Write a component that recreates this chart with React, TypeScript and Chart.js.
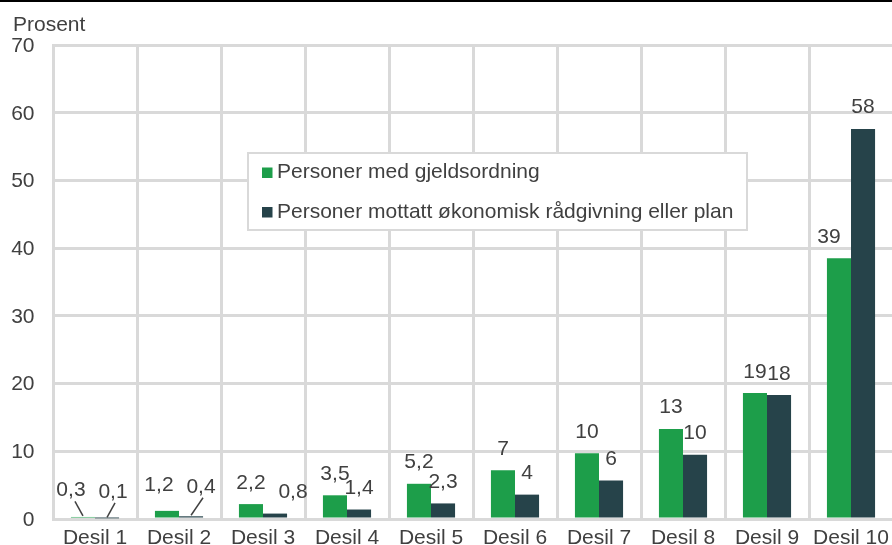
import React, { useEffect, useRef } from "react";
import { Chart, registerables } from "chart.js";

Chart.register(...registerables);

const categories = ["Desil 1", "Desil 2", "Desil 3", "Desil 4", "Desil 5", "Desil 6", "Desil 7", "Desil 8", "Desil 9", "Desil 10"];
const seriesNames = ["Personer med gjeldsordning", "Personer mottatt økonomisk rådgivning eller plan"];
const gjeldsordning = [0.3, 1.2, 2.2, 3.5, 5.2, 7.2, 9.7, 13.3, 18.6, 38.5];
const raadgivning = [0.1, 0.4, 0.8, 1.4, 2.3, 3.6, 5.7, 9.5, 18.3, 57.6];
const gjeldsLabels = ["0,3", "1,2", "2,2", "3,5", "5,2", "7", "10", "13", "19", "39"];
const raadLabels = ["0,1", "0,4", "0,8", "1,4", "2,3", "4", "6", "10", "18", "58"];
const yTicks = [0, 10, 20, 30, 40, 50, 60, 70];
const yTitle = "Prosent";

const GREEN = "#1d9e4a";
const DARK = "#26434a";
const TEXT = "#404040";
const GRID = "#d9d9d9";
const FONT = "'Liberation Sans', Arial, sans-serif";
const FS = 21;

// label nudges (dataset, index) -> offset in px, with optional leader line
const nudges: Record<string, { dx: number; dy: number; leader?: boolean }> = {
  "0-0": { dx: -12, dy: -5, leader: true },
  "1-0": { dx: 6, dy: -5, leader: true },
  "0-1": { dx: -8, dy: -4 },
  "1-1": { dx: 10, dy: -8, leader: true },
  "1-2": { dx: 18, dy: 0 },
  "0-9": { dx: -10, dy: 0 },
};

const labelPlugin = {
  id: "customDraw",
  afterDatasetsDraw(chart: any) {
    const ctx = chart.ctx;
    const labelSets = [gjeldsLabels, raadLabels];
    ctx.save();
    ctx.font = `${FS}px ${FONT}`;
    ctx.fillStyle = TEXT;
    ctx.textAlign = "center";
    ctx.textBaseline = "alphabetic";
    chart.data.datasets.forEach((_ds: any, di: number) => {
      const meta = chart.getDatasetMeta(di);
      meta.data.forEach((el: any, i: number) => {
        const n = nudges[`${di}-${i}`] || { dx: 0, dy: 0 };
        const x = el.x + n.dx;
        const y = el.y - 15.5 + n.dy;
        ctx.fillStyle = TEXT;
        ctx.fillText(labelSets[di][i], x, y);
        if (n.leader) {
          ctx.strokeStyle = TEXT;
          ctx.lineWidth = 1.5;
          ctx.beginPath();
          ctx.moveTo(x + (n.dx < 0 ? 4 : 2), y + 5);
          ctx.lineTo(el.x, el.y - 1);
          ctx.stroke();
        }
      });
    });
    // category labels
    const xs = chart.scales.x;
    ctx.textAlign = "center";
    ctx.textBaseline = "alphabetic";
    ctx.fillStyle = TEXT;
    chart.data.labels.forEach((lab: string, i: number) => {
      ctx.fillText(lab, xs.getPixelForValue(i), chart.chartArea.bottom + 25);
    });
    // value axis labels
    const ys = chart.scales.y;
    ctx.textAlign = "right";
    ctx.textBaseline = "middle";
    yTicks.forEach((v) => {
      ctx.fillText(String(v), 34.5, ys.getPixelForValue(v) + 1);
    });
    ctx.restore();
  },
  afterDraw(chart: any) {
    const ctx = chart.ctx;
    ctx.save();
    // top rule
    ctx.fillStyle = "#000";
    ctx.fillRect(0, 0, chart.width, 2);
    // axis title
    ctx.font = `${FS}px ${FONT}`;
    ctx.fillStyle = TEXT;
    ctx.textAlign = "left";
    ctx.textBaseline = "alphabetic";
    ctx.fillText(yTitle, 13, 31);
    // legend
    const lx = 248, ly = 153, lw = 499, lh = 77;
    ctx.fillStyle = "#fff";
    ctx.fillRect(lx, ly, lw, lh);
    ctx.strokeStyle = GRID;
    ctx.lineWidth = 2;
    ctx.strokeRect(lx, ly, lw, lh);
    chart.data.datasets.forEach((ds: any, di: number) => {
      const cy = 172.5 + di * 39.5;
      ctx.fillStyle = ds.backgroundColor;
      ctx.fillRect(262, cy - 5, 10.5, 10.5);
      ctx.fillStyle = TEXT;
      ctx.textBaseline = "middle";
      ctx.fillText(ds.label, 277, cy);
    });
    ctx.restore();
  },
};

export default function App() {
  const ref = useRef<HTMLCanvasElement>(null);
  useEffect(() => {
    if (!ref.current) return;
    const chart = new Chart(ref.current, {
      type: "bar",
      data: {
        labels: categories,
        datasets: [
          { label: seriesNames[0], data: gjeldsordning, backgroundColor: GREEN },
          { label: seriesNames[1], data: raadgivning, backgroundColor: DARK },
        ],
      },
      plugins: [labelPlugin],
      options: {
        responsive: false,
        animation: false,
        devicePixelRatio: 1,
        layout: { padding: { top: 45, left: 0, right: 0, bottom: 26 } },
        datasets: { bar: { categoryPercentage: 0.573, barPercentage: 1 } },
        plugins: { legend: { display: false }, tooltip: { enabled: false } },
        scales: {
          x: {
            grid: { color: GRID, lineWidth: 3, drawTicks: false, offset: true },
            border: { color: GRID, width: 3 },
            ticks: { display: false },
          },
          y: {
            min: 0,
            max: 70,
            afterFit: (s: any) => { s.width = 53; },
            afterBuildTicks: (s: any) => { s.ticks = yTicks.map((v) => ({ value: v })); },
            grid: { color: GRID, lineWidth: 3, drawTicks: false },
            border: { color: GRID, width: 3 },
            ticks: { display: false },
          },
        },
      },
    });
    return () => chart.destroy();
  }, []);
  return (
    <div style={{ position: "fixed", left: 0, top: 0, width: 892, height: 545, overflow: "hidden", background: "#fff" }}>
      <canvas ref={ref} width={893} height={545} style={{ display: "block" }} />
    </div>
  );
}
